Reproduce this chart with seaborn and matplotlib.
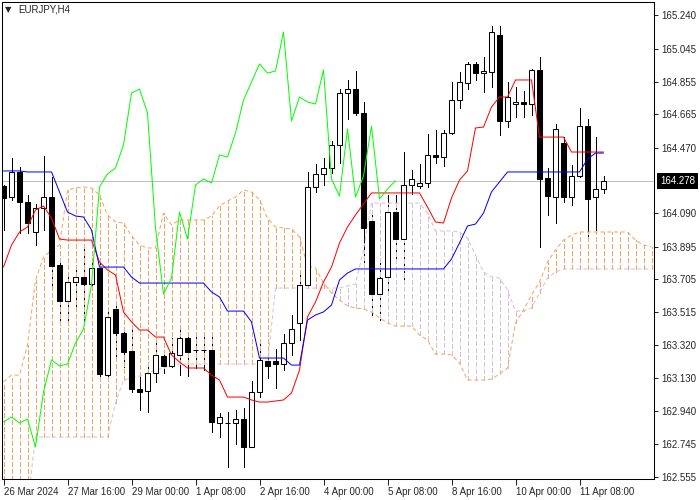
import numpy as np
import pandas as pd
import matplotlib
matplotlib.use("Agg")
import matplotlib.pyplot as plt
import seaborn as sns

# EURJPY H4 candles, one per bar
opens = [164.247, 164.183, 164.329, 164.154, 163.980, 164.119, 164.183, 163.788, 163.579, 163.689,
         163.718, 163.678, 163.771, 163.148, 163.532, 163.393, 163.288, 163.067, 163.055, 163.160,
         163.259, 163.201, 163.265, 163.363, 163.294, 163.292, 163.294, 162.869, 162.871, 162.869,
         162.892, 162.730, 163.049, 163.230, 163.230, 163.212, 163.334, 163.451, 163.672, 164.242,
         164.317, 164.352, 164.486, 164.788, 164.811, 164.672, 164.044, 163.619, 163.718, 164.096,
         163.939, 164.253, 164.247, 164.265, 164.428, 164.416, 164.556, 164.747, 164.846, 164.957,
         164.904, 164.910, 165.125, 164.625, 164.724, 164.736, 164.724, 164.922, 164.294, 164.183,
         164.497, 164.183, 164.306, 164.596, 164.183, 164.230]
highs = [164.253, 164.410, 164.358, 164.195, 164.143, 164.422, 164.300, 163.805, 163.730, 163.788,
         163.904, 163.829, 163.805, 163.544, 163.555, 163.422, 163.427, 163.148, 163.206, 163.363,
         163.294, 163.363, 163.427, 163.393, 163.369, 163.381, 163.381, 162.927, 162.933, 162.945,
         162.956, 163.113, 163.334, 163.265, 163.300, 163.387, 163.497, 163.741, 164.329, 164.375,
         164.410, 164.509, 164.811, 164.864, 164.916, 164.736, 164.108, 163.805, 164.195, 164.195,
         164.445, 164.340, 164.375, 164.550, 164.573, 164.573, 164.852, 164.910, 164.968, 164.968,
         164.998, 165.178, 165.178, 164.852, 164.823, 164.800, 164.928, 164.998, 164.352, 164.608,
         164.532, 164.370, 164.701, 164.637, 164.532, 164.306]
lows = [163.992, 164.166, 163.974, 163.974, 163.904, 163.992, 163.643, 163.439, 163.451, 163.526,
        163.457, 163.643, 163.142, 163.137, 163.236, 163.195, 163.049, 162.945, 162.933, 163.108,
        163.160, 163.195, 163.148, 163.142, 163.189, 163.177, 162.817, 162.788, 162.613, 162.747,
        162.613, 162.728, 163.020, 163.131, 163.073, 163.177, 163.265, 163.352, 163.654, 164.213,
        164.253, 164.323, 164.381, 164.637, 164.660, 163.800, 163.497, 163.468, 163.630, 163.830,
        163.701, 164.201, 164.236, 164.242, 164.381, 164.364, 164.550, 164.701, 164.811, 164.864,
        164.794, 164.823, 164.544, 164.590, 164.649, 164.649, 164.660, 163.893, 164.079, 164.032,
        164.154, 164.137, 164.300, 163.951, 163.992, 164.207]
closes = [164.178, 164.329, 164.154, 164.032, 164.119, 164.183, 163.782, 163.579, 163.689, 163.718,
          163.678, 163.771, 163.154, 163.486, 163.393, 163.282, 163.067, 163.049, 163.160, 163.265,
          163.201, 163.276, 163.363, 163.282, 163.292, 163.294, 162.875, 162.904, 162.869, 162.892,
          162.730, 163.049, 163.236, 163.201, 163.212, 163.334, 163.416, 163.672, 164.242, 164.317,
          164.352, 164.486, 164.788, 164.811, 164.672, 164.003, 163.619, 163.712, 164.096, 163.939,
          164.253, 164.288, 164.265, 164.428, 164.416, 164.556, 164.747, 164.852, 164.957, 164.904,
          164.916, 165.143, 164.625, 164.765, 164.736, 164.724, 164.922, 164.288, 164.189, 164.579,
          164.183, 164.306, 164.596, 164.172, 164.230, 164.278]

# Ichimoku lines as drawn
tenkan = [163.776, 163.904, 163.980, 164.009, 164.108, 164.131, 164.061, 163.939, 163.933, 163.933,
          163.933, 163.933, 163.805, 163.759, 163.730, 163.515, 163.457, 163.410, 163.410, 163.369,
          163.369, 163.265, 163.224, 163.189, 163.189, 163.189, 163.148, 163.119, 163.020, 163.020,
          163.020, 163.003, 162.991, 162.991, 162.997, 163.003, 163.044, 163.177, 163.486, 163.573,
          163.689, 163.776, 163.916, 164.009, 164.079, 164.143, 164.207, 164.207, 164.207, 164.207,
          164.207, 164.207, 164.207, 164.125, 164.038, 164.032, 164.178, 164.282, 164.335, 164.585,
          164.590, 164.707, 164.765, 164.765, 164.864, 164.864, 164.864, 164.532, 164.532, 164.532,
          164.532, 164.445, 164.445, 164.445, 164.445, 164.445]
kijun = [164.335, 164.335, 164.335, 164.329, 164.329, 164.329, 164.329, 164.213, 164.096, 164.073,
         164.067, 163.992, 163.776, 163.776, 163.776, 163.776, 163.718, 163.683, 163.683, 163.683,
         163.683, 163.683, 163.683, 163.683, 163.683, 163.683, 163.631, 163.602, 163.520, 163.520,
         163.520, 163.457, 163.247, 163.247, 163.247, 163.247, 163.206, 163.206, 163.468, 163.497,
         163.515, 163.555, 163.701, 163.741, 163.765, 163.765, 163.765, 163.765, 163.765, 163.765,
         163.765, 163.765, 163.765, 163.765, 163.765, 163.765, 163.823, 163.916, 164.015, 164.026,
         164.090, 164.213, 164.271, 164.329, 164.329, 164.329, 164.329, 164.329, 164.329, 164.329,
         164.329, 164.329, 164.329, 164.404, 164.439, 164.439]
span_a = [163.108, 163.148, 163.148, 163.323, 163.701, 163.834, 163.875, 163.904, 164.224, 164.236,
          164.242, 164.236, 164.195, 164.079, 164.038, 164.032, 163.957, 163.904, 163.887, 163.887,
          164.090, 164.021, 164.050, 164.050, 164.050, 164.050, 164.073, 164.131, 164.160, 164.183,
          164.224, 164.213, 164.166, 164.061, 164.009, 164.003, 163.997, 163.951, 163.782, 163.771,
          163.683, 163.625, 163.584, 163.550, 163.538, 163.532, 163.515, 163.480, 163.451, 163.433,
          163.433, 163.433, 163.381, 163.352, 163.270, 163.270, 163.265, 163.218, 163.119, 163.119,
          163.119, 163.125, 163.154, 163.189, 163.451, 163.526, 163.614, 163.689, 163.805, 163.875,
          163.933, 163.962, 163.980, 163.980, 163.980, 163.980, 163.980, 163.980, 163.980, 163.933,
          163.904, 163.893]
span_b = [162.392, 162.392, 162.392, 162.392, 162.788, 162.788, 162.788, 162.788, 162.788, 162.788,
          162.788, 162.788, 162.788, 162.788, 162.985, 163.119, 163.131, 163.142, 163.160, 163.177,
          163.189, 163.212, 163.212, 163.212, 163.212, 163.212, 163.212, 163.212, 163.212, 163.212,
          163.212, 163.212, 163.212, 163.212, 163.654, 163.654, 163.654, 163.654, 163.654, 163.654,
          163.654, 163.654, 163.654, 163.666, 163.678, 163.875, 164.148, 164.148, 164.148, 164.148,
          164.148, 164.148, 164.148, 164.090, 163.986, 163.986, 163.986, 163.980, 163.945, 163.846,
          163.747, 163.718, 163.712, 163.643, 163.520, 163.520, 163.538, 163.625, 163.712, 163.747,
          163.765, 163.765, 163.765, 163.765, 163.765, 163.765, 163.765, 163.765, 163.765, 163.765,
          163.765, 163.765]

tick_bars = [0, 8, 16, 24, 32, 40, 48, 56, 64, 72]
tick_labels = ['26 Mar 2024', '27 Mar 16:00', '29 Mar 00:00', '1 Apr 08:00', '2 Apr 16:00',
               '4 Apr 00:00', '5 Apr 08:00', '8 Apr 16:00', '10 Apr 00:00', '11 Apr 08:00']
price_ticks = [165.240, 165.045, 164.855, 164.665, 164.470, 164.090, 163.895,
               163.705, 163.515, 163.320, 163.130, 162.940, 162.745, 162.555]
last_price = 164.278
shift = 26

sns.set_style("white")
plt.rcParams['font.family'] = ['Liberation Sans', 'DejaVu Sans']

df = pd.DataFrame({'open': opens, 'high': highs, 'low': lows, 'close': closes})
df['bar'] = np.arange(len(df))
cloud = pd.DataFrame({'a': span_a, 'b': span_b})
cloud['bar'] = np.arange(len(cloud))

fig = plt.figure(figsize=(7, 5), dpi=100)
ax = fig.add_axes([2 / 700, 21 / 500, 652 / 700, 477 / 500])

ORANGE = '#F4A460'
THISTLE = '#D8BFD8'
PX = 0.72    # one pixel at 100 dpi
THIN = 0.5   # aliased strokes, centred on a pixel column

# current price line
ax.axhline(last_price, color='#C0C0C0', lw=THIN, zorder=0.5, antialiased=False)

# wicks
ax.vlines(df['bar'], df['low'], df['high'], color='black', lw=THIN, zorder=1.5, antialiased=False)

# cloud hatching (orange where span A is on top, thistle where span B is)
hatch_col = [ORANGE if a >= b else THISTLE for a, b in zip(cloud['a'], cloud['b'])]
ax.vlines(cloud['bar'], cloud[['a', 'b']].min(axis=1), cloud[['a', 'b']].max(axis=1),
          colors=hatch_col, lw=THIN, linestyles=[(0, (6, 4))], zorder=2, antialiased=False)
sns.lineplot(data=cloud, x='bar', y='a', color=ORANGE, linewidth=PX,
             linestyle=(0, (4, 2.8)), ax=ax, zorder=2)
sns.lineplot(data=cloud, x='bar', y='b', color=THISTLE, linewidth=PX,
             linestyle=(0, (4, 2.8)), ax=ax, zorder=2)

# bodies
bull = df['close'] >= df['open']
ax.bar(df['bar'], (df['close'] - df['open']).abs().clip(lower=0.002),
       bottom=df[['open', 'close']].min(axis=1), width=0.6,
       color=np.where(bull, 'white', 'black'), edgecolor='black', linewidth=0.75, zorder=3)

# tenkan, kijun, chikou
bars = np.arange(len(tenkan))
sns.lineplot(x=bars, y=tenkan, color='#FF0000', linewidth=PX, ax=ax, zorder=4)
sns.lineplot(x=bars, y=kijun, color='#0000FF', linewidth=PX, ax=ax, zorder=4)
sns.lineplot(x=np.arange(len(closes) - shift), y=closes[shift:], color='#00FF00',
             linewidth=PX, ax=ax, zorder=4)

# bar centres fall on pixel centres (8 px per bar)
ax.set_xlim(-0.1875, -0.1875 + 652 / 8)
ax.set_ylim(162.5435, 165.3174)
ax.set_xlabel('')
ax.set_ylabel('')

ax.set_xticks(tick_bars)
ax.set_xticklabels(tick_labels, ha='left')
ax.yaxis.tick_right()
ax.set_yticks(price_ticks)
ax.set_yticklabels([f'{p:.3f}' for p in price_ticks])
ax.tick_params(axis='x', length=4, width=0.75, pad=1.5, labelsize=7, direction='out', bottom=True)
ax.tick_params(axis='y', length=3, width=0.75, pad=2, labelsize=7, direction='out', right=True)
for s in ax.spines.values():
    s.set_color('black')
    s.set_linewidth(0.75)

ax.annotate(f'{last_price:.3f}', xy=(1, last_price), xycoords=('axes fraction', 'data'),
            xytext=(6, 0), textcoords='offset pixels', ha='left', va='center',
            fontsize=7, color='white',
            bbox=dict(boxstyle='square,pad=0.3', fc='black', ec='none'))

fig.text(5 / 700, 1 - 10 / 500, '\u25bc', fontsize=6, va='center', family=['DejaVu Sans'])
fig.text(18 / 700, 1 - 10 / 500, 'EURJPY,H4', fontsize=7, va='center')

fig.savefig('out.png', dpi=100)
